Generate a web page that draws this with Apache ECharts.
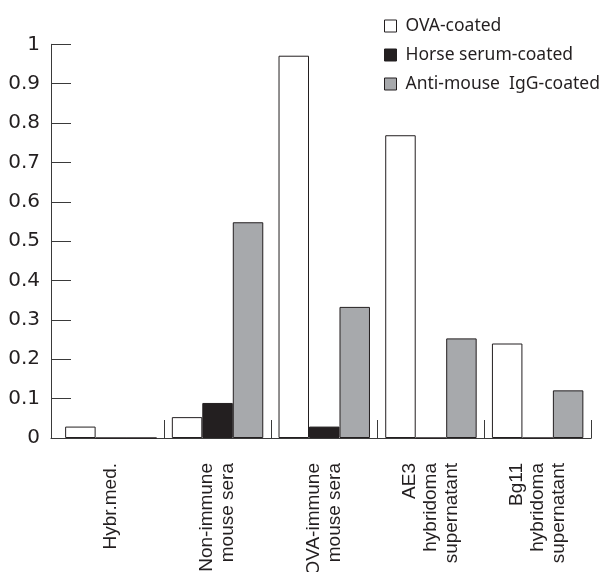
<!DOCTYPE html>
<html>
<head>
<meta charset="utf-8">
<script src="https://cdn.jsdelivr.net/npm/echarts@6/dist/echarts.min.js"></script>
<style>
html,body{margin:0;padding:0;background:#fff;}
#chart{width:608px;height:572px;}
</style>
</head>
<body>
<div id="chart"></div>
<script>
const categories = [
  'Hybr.med.',
  'Non-immune\nmouse sera',
  'OVA-immune\nmouse sera',
  'AE3\nhybridoma\nsupernatant',
  'Bg11\nhybridoma\nsupernatant'
];
const seriesNames = ['OVA-coated', 'Horse serum-coated', 'Anti-mouse  IgG-coated'];
const ovaValues = [0.029, 0.053, 0.971, 0.769, 0.240];
const horseValues = [0, 0.089, 0.029, 0, 0];
const antiValues = [0, 0.548, 0.333, 0.253, 0.121];

const colors = ['#ffffff', '#231f20', '#a7a9ac'];
const edge = '#231f20';
const axisColor = '#3a3a3a';

const chart = echarts.init(document.getElementById('chart'));
const mkSeries = (name, data, color) => ({
  name: name,
  type: 'bar',
  data: data,
  xAxisIndex: 0,
  yAxisIndex: 0,
  barGap: '0%',
  barCategoryGap: '14.3%',
  itemStyle: { color: color, borderColor: edge, borderWidth: 1 },
  emphasis: { disabled: true },
  animation: false
});

chart.setOption({
  animation: false,
  backgroundColor: '#ffffff',
  legend: {
    orient: 'vertical',
    left: 379,
    top: 12,
    itemWidth: 12,
    itemHeight: 12,
    itemGap: 11,
    icon: 'rect',
    selectedMode: false,
    data: seriesNames.map((n, i) => ({
      name: n,
      itemStyle: { color: colors[i], borderColor: edge, borderWidth: 1 }
    })),
    textStyle: {
      fontFamily: 'Noto Sans',
      fontSize: 17.5,
      lineHeight: 18,
      color: '#231f20',
      padding: [0, 0, 0, 4]
    }
  },
  grid: [
    { left: 57.5, right: 17, top: 44.3, bottom: 134, containLabel: false, outerBoundsMode: 'none' },
    { left: 51, right: 17, top: 44.3, bottom: 134, containLabel: false, outerBoundsMode: 'none' }
  ],
  xAxis: [
    {
      type: 'category',
      gridIndex: 0,
      data: categories,
      axisLine: { show: true, lineStyle: { color: axisColor, width: 1 } },
      axisTick: {
        show: true,
        inside: true,
        length: 18,
        interval: function (i) { return i !== 0; },
        lineStyle: { color: axisColor, width: 1 }
      },
      axisLabel: {
        interval: 0,
        rotate: 90,
        margin: 25,
        fontFamily: 'Liberation Sans',
        fontSize: 19,
        lineHeight: 21,
        color: '#231f20'
      },
      splitLine: { show: false }
    },
    {
      type: 'value',
      gridIndex: 1,
      min: 0,
      max: 1,
      axisLine: { show: true, lineStyle: { color: axisColor, width: 1 } },
      axisTick: { show: false },
      axisLabel: { show: false },
      splitLine: { show: false }
    }
  ],
  yAxis: [
    {
      type: 'value',
      gridIndex: 0,
      min: 0,
      max: 1,
      interval: 0.1,
      offset: 6.5,
      axisLine: { show: true, lineStyle: { color: axisColor, width: 1 } },
      axisTick: { show: true, inside: true, length: 20, lineStyle: { color: axisColor, width: 1 } },
      axisLabel: {
        margin: 11,
        fontFamily: 'DejaVu Sans',
        fontSize: 20,
        color: '#231f20'
      },
      splitLine: { show: false }
    },
    {
      type: 'value',
      gridIndex: 1,
      min: 0,
      max: 1,
      axisLine: { show: false },
      axisTick: { show: false },
      axisLabel: { show: false },
      splitLine: { show: false }
    }
  ],
  series: [
    mkSeries(seriesNames[0], ovaValues, colors[0]),
    mkSeries(seriesNames[1], horseValues, colors[1]),
    mkSeries(seriesNames[2], antiValues, colors[2])
  ]
});
</script>
</body>
</html>
